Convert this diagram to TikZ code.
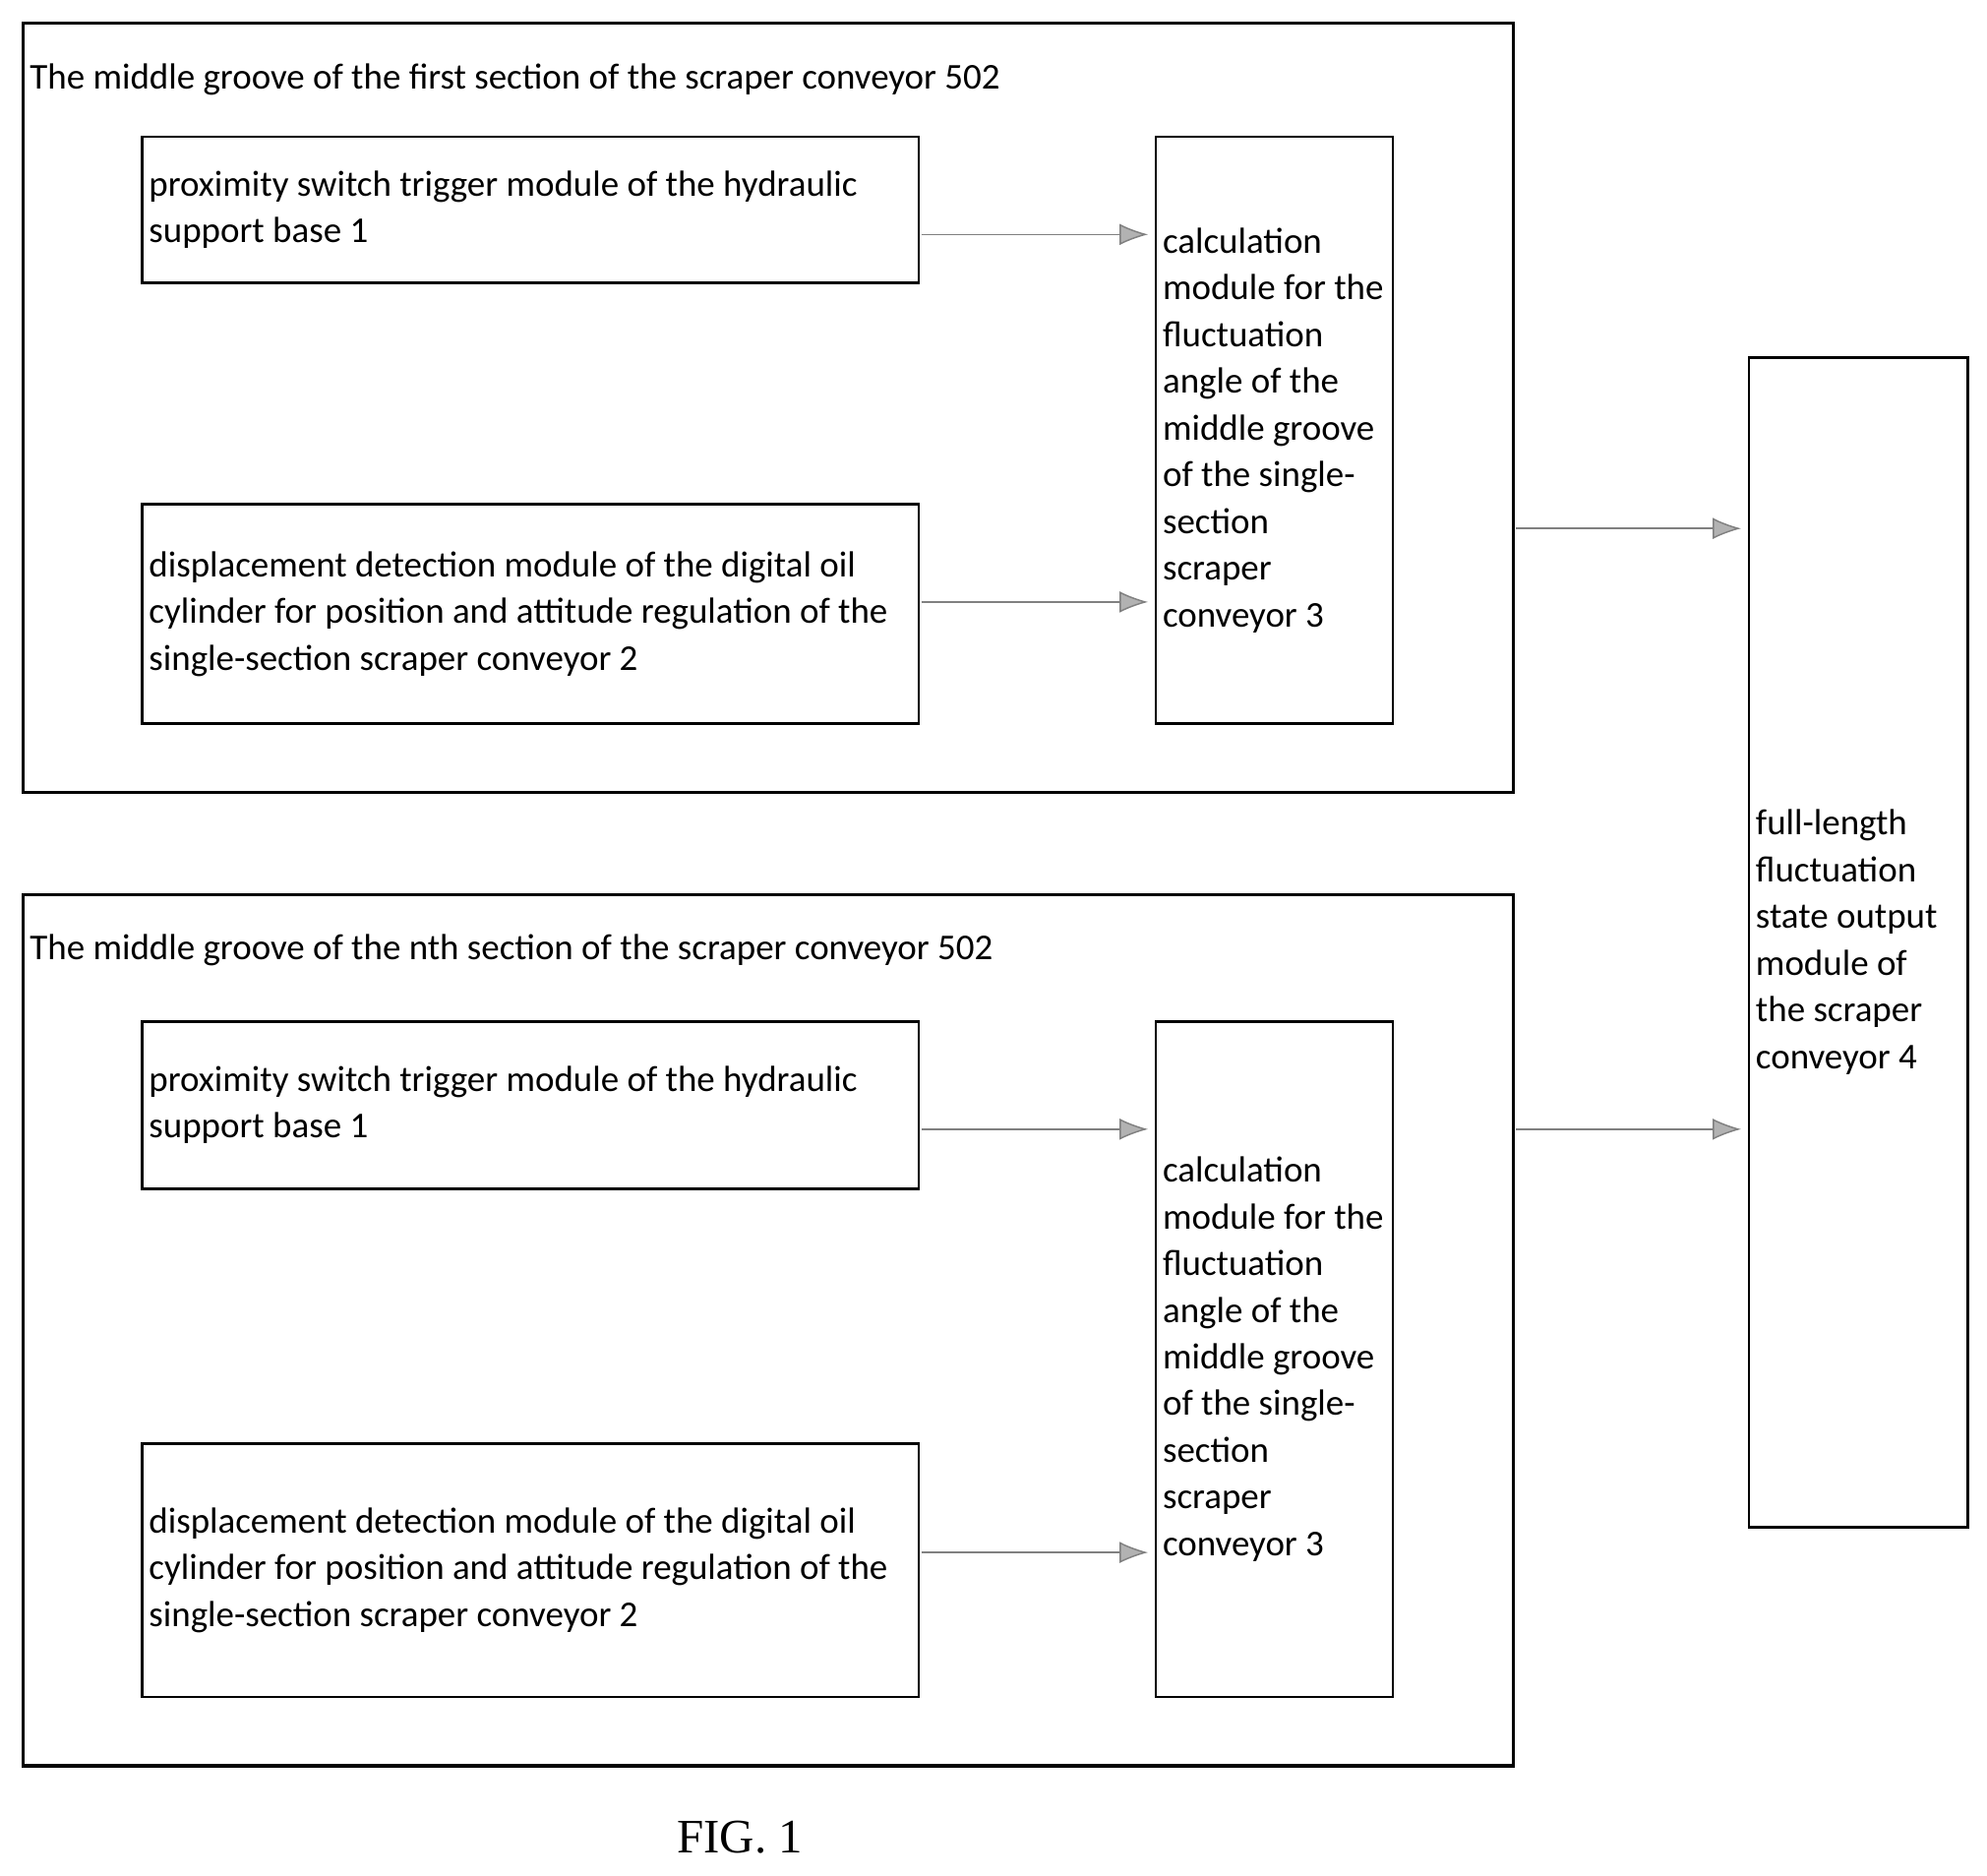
\documentclass[tikz,border=0pt]{standalone}
\usepackage{fontspec}
\setmainfont{Carlito}
\newfontfamily\capfont{Liberation Serif}
\usetikzlibrary{positioning,arrows.meta}

\begin{document}
\begin{tikzpicture}[x=0.0125cm,y=-0.0125cm,
    box/.style={draw,line width=0.9pt,inner sep=0pt},
    module/.style={draw,line width=0.7pt,anchor=north west,inner sep=0pt,
        label={[anchor=west,align=left,inner sep=6*0.0125cm,font=\fontsize{10.2}{13.1}\selectfont]west:#1}},
    flow/.style={draw=gray,line width=0.4pt,-{Latex[length=8pt,width=6pt,fill=gray!60]}}]

\useasboundingbox (0,0) rectangle (1568,1480);

% first section
\node[box,anchor=north west,minimum width=1176*0.0125cm,minimum height=607*0.0125cm] (sec1) at (17,17) {};
\node[anchor=west,inner sep=0pt,font=\fontsize{10.2}{13.1}\selectfont] (title1) at (23,63)
    {The middle groove of the first section of the scraper conveyor 502};
\node[module={proximity switch trigger module of the hydraulic\\support base 1},
    minimum width=613*0.0125cm,minimum height=115*0.0125cm] (prox1) at (111,107) {};
\node[module={displacement detection module of the digital oil\\cylinder for position and attitude regulation of the\\single-section scraper conveyor 2},
    minimum width=613*0.0125cm,minimum height=173*0.0125cm] (disp1) at (111,397) {};
\node[module={calculation\\module for the\\fluctuation\\angle of the\\middle groove\\of the single-\\section\\scraper\\conveyor 3},
    minimum width=187*0.0125cm,minimum height=463*0.0125cm] (calc1) at (911,107) {};

% nth section
\node[box,anchor=north west,minimum width=1176*0.0125cm,minimum height=687*0.0125cm] (sec2) at (17,705) {};
\node[anchor=west,inner sep=0pt,font=\fontsize{10.2}{13.1}\selectfont] (title2) at (23,750)
    {The middle groove of the nth section of the scraper conveyor 502};
\node[module={proximity switch trigger module of the hydraulic\\support base 1},
    minimum width=613*0.0125cm,minimum height=132*0.0125cm] (prox2) at (111,805) {};
\node[module={displacement detection module of the digital oil\\cylinder for position and attitude regulation of the\\single-section scraper conveyor 2},
    minimum width=613*0.0125cm,minimum height=200*0.0125cm] (disp2) at (111,1138) {};
\node[module={calculation\\module for the\\fluctuation\\angle of the\\middle groove\\of the single-\\section\\scraper\\conveyor 3},
    minimum width=187*0.0125cm,minimum height=533*0.0125cm] (calc2) at (911,805) {};

% output
\node[module={full-length\\fluctuation\\state output\\module of\\the scraper\\conveyor 4},
    minimum width=173*0.0125cm,minimum height=923*0.0125cm] (full) at (1379,281) {};

\coordinate (a1) at (727,185);
\coordinate (b1) at (727,475);
\coordinate (a2) at (727,891);
\coordinate (b2) at (727,1225);
\coordinate (o1) at (1196,417);
\coordinate (o2) at (1196,891);

\draw[flow] (a1) -- ([xshift=-5*0.0125cm]calc1.west |- a1);
\draw[flow] (b1) -- ([xshift=-5*0.0125cm]calc1.west |- b1);
\draw[flow] (a2) -- ([xshift=-5*0.0125cm]calc2.west |- a2);
\draw[flow] (b2) -- ([xshift=-5*0.0125cm]calc2.west |- b2);
\draw[flow] (o1) -- ([xshift=-5*0.0125cm]full.west |- o1);
\draw[flow] (o2) -- ([xshift=-5*0.0125cm]full.west |- o2);

\node[font=\capfont\fontsize{13.5}{16}\selectfont] (fig) at (584,1450) {FIG. 1};
\end{tikzpicture}
\end{document}
